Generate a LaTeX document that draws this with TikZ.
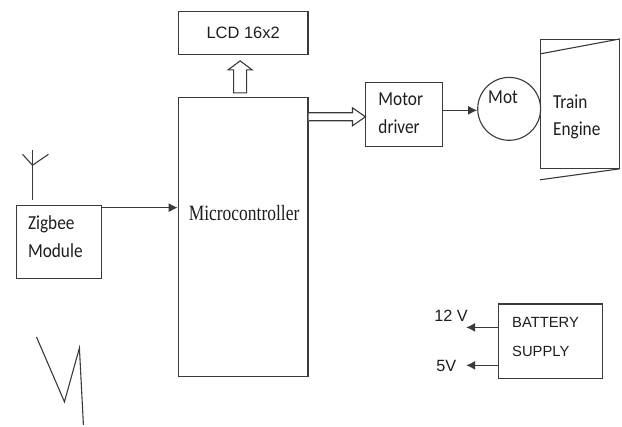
\documentclass[tikz,border=0pt]{standalone}
\usepackage{fontspec}
\setmainfont{Liberation Sans}
\newfontfamily\carl{Carlito}
\newfontfamily\tnr{Liberation Serif}
\usetikzlibrary{arrows.meta,calc}
\definecolor{linec}{HTML}{3A3A3A}
\definecolor{txtc}{HTML}{1E1E1E}
\newcommand{\vstretch}[1]{\scalebox{1}[1.15]{#1}}
\begin{document}
\begin{tikzpicture}[x=1pt,y=-1pt,
  every path/.style={draw=linec, line width=1.1pt},
  box/.style={draw=linec, line width=1.1pt, inner sep=0pt, rectangle},
  lbl/.style={inner sep=0pt, anchor=base west, text=txtc},
  cal/.style={lbl, font=\carl\fontsize{17.3}{20}\selectfont},
  ari/.style={lbl, font=\fontsize{14.8}{18}\selectfont},
  volt/.style={lbl, font=\fontsize{16.3}{18}\selectfont},
  arr/.style={-{Latex[length=9pt,width=9pt]}},
  hollow/.style={draw=linec, line width=1.1pt, fill=white, line join=miter}]
\useasboundingbox (0,0) rectangle (622,426);
\fill[white] (0,0) rectangle (622,426);

% boxes
\node[box, minimum width=130, minimum height=43, font=\fontsize{16.5}{20}\selectfont, text=txtc] (lcd) at (243,32.5) {LCD 16x2};
\node[box, minimum width=130, minimum height=280] (mcu) at (243,237) {};
\node[box, minimum width=77, minimum height=64] (drv) at (404.5,114) {};
\node[draw=linec, line width=1.1pt, circle, minimum size=63, inner sep=0pt] (mot) at (509.5,108.5) {};
\node[box, minimum width=79, minimum height=129] (tr) at (580.5,103.5) {};
\node[box, minimum width=85, minimum height=73] (zig) at (58.5,241.5) {};
\node[box, minimum width=104, minimum height=75] (bat) at (551,341.5) {};

% texts
\node[lbl, font=\tnr\fontsize{17.5}{20}\selectfont] (mcut) at (188,220) {\scalebox{1}[1.25]{Microcontroller}};
\node[cal] (drv1) at (378,105) {\vstretch{Motor}};
\node[cal] (drv2) at (378,133) {\vstretch{driver}};
\node[cal] (mott) at (488,103) {\vstretch{Mot}};
\node[cal] (tr1) at (553,108) {\vstretch{Train}};
\node[cal] (tr2) at (553,135) {\vstretch{Engine}};
\node[cal] (zig1) at (27,229) {\vstretch{Zigbee}};
\node[cal] (zig2) at (27,257) {\vstretch{Module}};
\node[ari] (bat1) at (512,328) {BATTERY};
\node[ari] (bat2) at (512,357) {SUPPLY};
\node[volt] (v12) at (434,322) {12 V};
\node[volt] (v5) at (436,372) {5V};

% hollow arrow up: mcu -> lcd
\draw[hollow] ($(mcu.north)+(-3,-4)$) ++(-6.5,0) -- ++(0,-23) -- ++(-5.5,0)
  -- ++(12,-9) -- ++(12,9) -- ++(-5.5,0) -- ++(0,23) -- cycle;
% hollow arrow right: mcu -> motor driver
\draw[hollow] ($(mcu.north east)+(0,20)$) ++(0,-4) -- ++(44,0) -- ++(0,-5)
  -- ++(13,9) -- ++(-13,9) -- ++(0,-5) -- ++(-44,0);

% solid arrows
\draw[arr] ($(zig.north east)+(0,3)$) coordinate (z1) -- (z1 -| mcu.west);
\draw[arr] ($(drv.east)+(0,-4)$) coordinate (d1) -- (mot.west |- d1);
\draw[arr] ($(bat.north west)+(0,24)$) coordinate (b1) -- ++(-32,0) coordinate (b1e);
\draw[arr] ($(bat.north west)+(0,62)$) coordinate (b2) -- ++(-32,0) coordinate (b2e);

% train engine slants
\draw ($(tr.north west)+(0,15)$) -- (tr.north east);
\draw ($(tr.south west)+(0,11)$) -- (tr.south east);

% antenna
\draw (32,200) -- (32,150);
\draw (22,154) -- (32,165) -- (48,154);

% lightning
\draw[line join=miter] (36,337) -- (64,402) -- (79,348) -- (83,425);
\end{tikzpicture}
\end{document}
